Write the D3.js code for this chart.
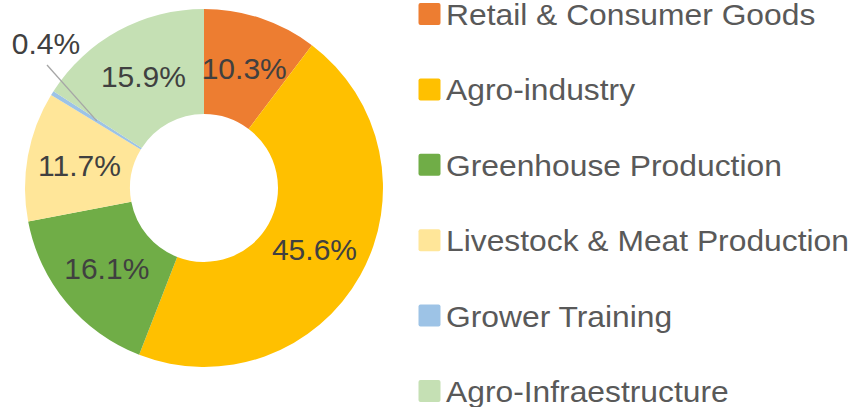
<!DOCTYPE html>
<html>
<head>
<meta charset="utf-8">
<script src="https://cdn.jsdelivr.net/npm/d3@7"></script>
<style>
	body { margin: 0; background: #fff; }
	svg { display: block; font-family: "Liberation Sans", Arial, sans-serif; }
</style>
</head>
<body>
<div id="container"></div>
<script>
// chart data
let categories = ["Retail & Consumer Goods", "Agro-industry", "Greenhouse Production",
	"Livestock & Meat Production", "Grower Training", "Agro-Infraestructure"];
let shares = [10.3, 45.6, 16.1, 11.7, 0.4, 15.9];
let colors = ["#ED7D31", "#FFC000", "#70AD47", "#FFE699", "#9DC3E6", "#C5E0B4"];

let width = 852, height = 407;
let cx = 204, cy = 188;
let outerR = 179, innerR = 74;

let svg = d3.select("div#container").append("svg")
	.attr("width", width)
	.attr("height", height);

let pie = d3.pie().sort(null).value(d => d);
let arc = d3.arc().innerRadius(innerR).outerRadius(outerR);
let labelArc = d3.arc().innerRadius((innerR + outerR) / 2).outerRadius((innerR + outerR) / 2);
let arcs = pie(shares);

let g = svg.append("g").attr("transform", "translate(" + cx + "," + cy + ")");

g.selectAll("path.slice")
	.data(arcs)
	.enter().append("path")
	.attr("class", "slice")
	.attr("d", arc)
	.attr("fill", (d, i) => colors[i]);

// labels - tiny slice gets a callout outside
arcs.forEach(function(d, i){
	let c = labelArc.centroid(d);
	let txt = d3.format(".1f")(shares[i]) + "%";
	if (shares[i] < 1) {
		let lx = 46 - cx, ly = 43 - cy;
		g.append("line")
			.attr("x1", lx + 1).attr("y1", ly + 22)
			.attr("x2", c[0]).attr("y2", c[1])
			.attr("stroke", "#A6A6A6")
			.attr("stroke-width", 1.3);
		g.append("text")
			.attr("x", lx).attr("y", ly)
			.attr("text-anchor", "middle")
			.attr("dominant-baseline", "central")
			.attr("font-size", "30px")
			.attr("fill", "#404040")
			.text(txt);
	} else {
		g.append("text")
			.attr("x", c[0]).attr("y", c[1])
			.attr("text-anchor", "middle")
			.attr("dominant-baseline", "central")
			.attr("font-size", "30px")
			.attr("fill", "#404040")
			.text(txt);
	}
});

// legend (text is a bit wider in the original, stretch it)
let legendY = d3.scalePoint().domain(categories).range([14, 391]);
let legend = svg.append("g");
categories.forEach(function(name, i){
	let y = legendY(name);
	legend.append("rect")
		.attr("x", 418.5).attr("y", y - 11)
		.attr("width", 22).attr("height", 22)
		.attr("rx", 2)
		.attr("fill", colors[i]);
	legend.append("text")
		.attr("transform", "translate(446," + (y + 11) + ") scale(1.06,1)")
		.attr("font-size", "30px")
		.attr("fill", "#595959")
		.text(name);
});
</script>
</body>
</html>
